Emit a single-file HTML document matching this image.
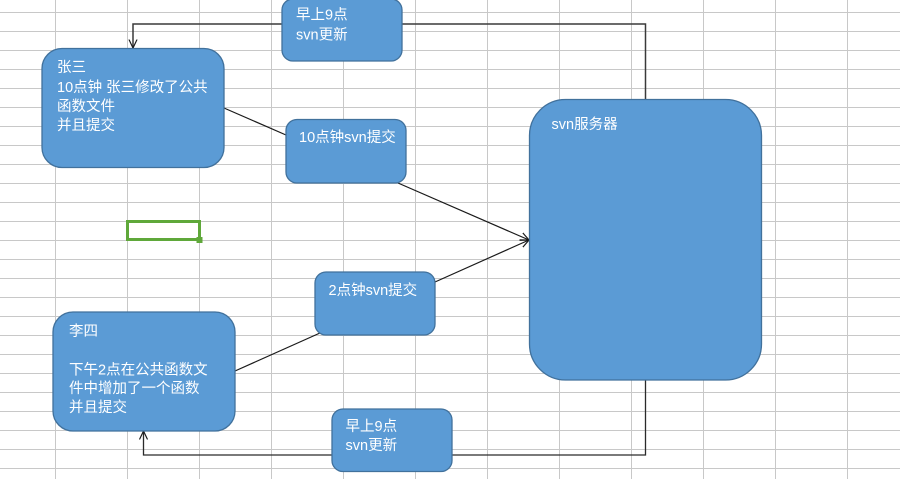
<!DOCTYPE html>
<html>
<head>
<meta charset="utf-8">
<style>
  html,body{margin:0;padding:0;background:#fff;}
  svg{display:block;}
  text{font-family:"Liberation Sans","Noto Sans CJK SC","WenQuanYi Zen Hei",sans-serif;font-size:14.5px;fill:#ffffff;}
</style>
</head>
<body>
<svg width="900" height="479" viewBox="0 0 900 479" xmlns="http://www.w3.org/2000/svg">
  <defs>
    <marker id="arr" viewBox="0 0 10 10" refX="9.5" refY="5" markerWidth="9" markerHeight="9" markerUnits="userSpaceOnUse" orient="auto">
      <path d="M0,0.5 L9.5,5 L0,9.5" fill="none" stroke="#1a1a1a" stroke-width="1.3"/>
    </marker>
  </defs>
  <rect x="0" y="0" width="900" height="479" fill="#ffffff"/>
  <!-- grid -->
  <g stroke="#c8c8c8" stroke-width="1">
    <line x1="55.5" y1="0" x2="55.5" y2="479"/>
    <line x1="127.5" y1="0" x2="127.5" y2="479"/>
    <line x1="199.5" y1="0" x2="199.5" y2="479"/>
    <line x1="271.5" y1="0" x2="271.5" y2="479"/>
    <line x1="343.5" y1="0" x2="343.5" y2="479"/>
    <line x1="415.5" y1="0" x2="415.5" y2="479"/>
    <line x1="487.5" y1="0" x2="487.5" y2="479"/>
    <line x1="559.5" y1="0" x2="559.5" y2="479"/>
    <line x1="631.5" y1="0" x2="631.5" y2="479"/>
    <line x1="703.5" y1="0" x2="703.5" y2="479"/>
    <line x1="775.5" y1="0" x2="775.5" y2="479"/>
    <line x1="847.5" y1="0" x2="847.5" y2="479"/>
    <line x1="0" y1="12.5" x2="900" y2="12.5"/>
    <line x1="0" y1="31.5" x2="900" y2="31.5"/>
    <line x1="0" y1="50.5" x2="900" y2="50.5"/>
    <line x1="0" y1="69.5" x2="900" y2="69.5"/>
    <line x1="0" y1="88.5" x2="900" y2="88.5"/>
    <line x1="0" y1="107.5" x2="900" y2="107.5"/>
    <line x1="0" y1="126.5" x2="900" y2="126.5"/>
    <line x1="0" y1="145.5" x2="900" y2="145.5"/>
    <line x1="0" y1="164.5" x2="900" y2="164.5"/>
    <line x1="0" y1="183.5" x2="900" y2="183.5"/>
    <line x1="0" y1="202.5" x2="900" y2="202.5"/>
    <line x1="0" y1="221.5" x2="900" y2="221.5"/>
    <line x1="0" y1="240.5" x2="900" y2="240.5"/>
    <line x1="0" y1="259.5" x2="900" y2="259.5"/>
    <line x1="0" y1="278.5" x2="900" y2="278.5"/>
    <line x1="0" y1="297.5" x2="900" y2="297.5"/>
    <line x1="0" y1="316.5" x2="900" y2="316.5"/>
    <line x1="0" y1="335.5" x2="900" y2="335.5"/>
    <line x1="0" y1="354.5" x2="900" y2="354.5"/>
    <line x1="0" y1="373.5" x2="900" y2="373.5"/>
    <line x1="0" y1="392.5" x2="900" y2="392.5"/>
    <line x1="0" y1="411.5" x2="900" y2="411.5"/>
    <line x1="0" y1="430.5" x2="900" y2="430.5"/>
    <line x1="0" y1="449.5" x2="900" y2="449.5"/>
    <line x1="0" y1="468.5" x2="900" y2="468.5"/>
  </g>

  <!-- selected cell -->
  <rect x="127.5" y="221.5" width="72" height="18" fill="none" stroke="#5fa83a" stroke-width="3"/>
  <rect x="196.5" y="237" width="6" height="6" fill="#5fa83a"/>

  <!-- connectors -->
  <g fill="none" stroke="#1a1a1a" stroke-width="1.2">
    <polyline points="645.5,100 645.5,24 133,24 133,48" stroke="#3a3a3a" stroke-width="1.5" marker-end="url(#arr)"/>
    <polyline points="645.5,380 645.5,455 143.5,455 143.5,431" stroke="#2a2a2a" stroke-width="1.3" marker-end="url(#arr)"/>
    <line x1="224" y1="108" x2="286" y2="135"/>
    <line x1="398" y1="183" x2="529" y2="240" marker-end="url(#arr)"/>
    <line x1="435" y1="282" x2="529" y2="240" marker-end="url(#arr)"/>
    <line x1="320" y1="333" x2="235" y2="371"/>
  </g>

  <!-- boxes -->
  <g fill="#5b9bd5" stroke="#41719c" stroke-width="1.3">
    <rect x="282" y="-1" width="120" height="62" rx="11"/>
    <rect x="42" y="48.5" width="182" height="119" rx="20"/>
    <rect x="286" y="119.5" width="120" height="63.5" rx="11"/>
    <rect x="529.5" y="99.5" width="232" height="280.5" rx="36"/>
    <rect x="315" y="272" width="120" height="63" rx="11"/>
    <rect x="53" y="312" width="182" height="119" rx="20"/>
    <rect x="332" y="409" width="120" height="62.5" rx="11"/>
  </g>

  <!-- labels -->
  <text x="296" y="19.5">早上9点</text>
  <text x="296" y="39.5">svn更新</text>

  <text x="57" y="72">张三</text>
  <text x="57" y="92">10点钟 张三修改了公共</text>
  <text x="57" y="111">函数文件</text>
  <text x="57" y="130">并且提交</text>

  <text x="299" y="142">10点钟svn提交</text>

  <text x="551.5" y="129">svn服务器</text>

  <text x="328.5" y="295">2点钟svn提交</text>

  <text x="69" y="336">李四</text>
  <text x="69" y="374.5">下午2点在公共函数文</text>
  <text x="69" y="393">件中增加了一个函数</text>
  <text x="69" y="412">并且提交</text>

  <text x="345.5" y="431">早上9点</text>
  <text x="345.5" y="450">svn更新</text>
</svg>
</body>
</html>
